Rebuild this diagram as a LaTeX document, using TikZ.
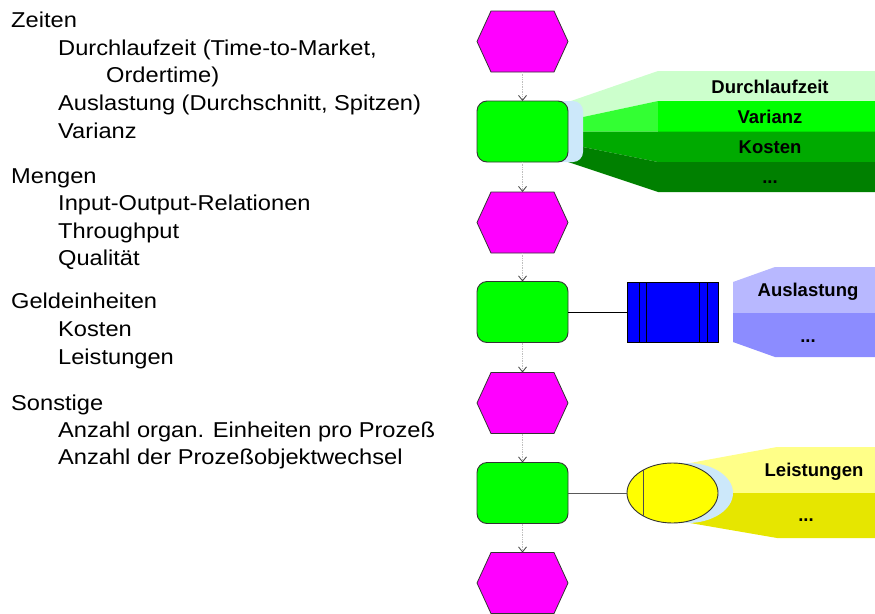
\documentclass[tikz,border=0pt]{standalone}
\usepackage{fontspec}
\setmainfont{Liberation Sans}
\newfontfamily\listfont{Liberation Sans}[FakeStretch=1.1]
\usetikzlibrary{arrows.meta,calc,shapes.geometric}

\definecolor{evmag}{HTML}{FF00FF}
\definecolor{fngreen}{HTML}{00FF00}
\definecolor{backglow}{HTML}{CCE8FA}
\definecolor{gA}{HTML}{CCFFCC}
\definecolor{gB}{HTML}{00FF00}
\definecolor{gBf}{HTML}{33FF33}
\definecolor{gC}{HTML}{00AA00}
\definecolor{gD}{HTML}{008000}
\definecolor{orgblue}{HTML}{0000FF}
\definecolor{pA}{HTML}{B8B8FF}
\definecolor{pB}{HTML}{8C8CFF}
\definecolor{yA}{HTML}{FFFF88}
\definecolor{yB}{HTML}{E6E600}
\definecolor{yE}{HTML}{FFFF00}

\begin{document}
\begin{tikzpicture}[x=1pt,y=-1pt,
  hexnode/.style={minimum width=91pt,minimum height=61pt,inner sep=0pt,outer sep=0pt},
  hexshape/.style={draw=black!80,line width=0.8pt,fill=evmag},
  fnbox/.style={draw=black!80,line width=0.9pt,fill=fngreen,rounded corners=10pt,
    minimum width=91pt,minimum height=61pt,inner sep=0pt,outer sep=0pt},
  flow/.style={draw=black!25,densely dotted,line width=0.7pt,
    -{Straight Barb[length=5pt,width=8pt,color=black!75,line width=0.8pt]}},
  item/.style={anchor=base west,inner sep=0pt,font=\listfont\fontsize{21.5}{26}\selectfont},
  tag/.style={anchor=base,inner sep=0pt,font=\bfseries\fontsize{18.5}{22}\selectfont},
]
\useasboundingbox (0,0) rectangle (875,613);

% ---- list of measures ----
\node[item] (t1) at (11,27.5) {Zeiten};
\node[item] (t2) at (58,55.5) {Durchlaufzeit (Time-to-Market,};
\node[item] (t3) at (106,82.5) {Ordertime)};
\node[item] (t4) at (58,110.5) {Auslastung (Durchschnitt, Spitzen)};
\node[item] (t5) at (58,138.5) {Varianz};
\node[item] (t6) at (11,183.5) {Mengen};
\node[item] (t7) at (58,210.5) {Input-Output-Relationen};
\node[item] (t8) at (58,238.5) {Throughput};
\node[item] (t9) at (58,265.5) {Qualität};
\node[item] (t10) at (11,308.5) {Geldeinheiten};
\node[item] (t11) at (58,336.5) {Kosten};
\node[item] (t12) at (58,364.5) {Leistungen};
\node[item] (t13) at (11,410.5) {Sonstige};
\node[item] (t14) at (58,437.5) {Anzahl organ. Einheiten pro Prozeß};
\node[item] (t15) at (58,464.5) {Anzahl der Prozeßobjektwechsel};

% ---- fan of attributes behind the first function ----
\fill[gA] (568,102) -- (658,71) -- (875,71) -- (875,101) -- (658,101) -- (570,119.8) -- cycle;
\fill[gBf] (570,119.8) -- (658,101) -- (658,131.7) -- (570,131.7) -- cycle;
\fill[gB] (658,101) rectangle (875,131.7);
\fill[gC] (570,131.7) -- (875,131.7) -- (875,162) -- (658,162) -- (570,144.4) -- cycle;
\fill[gD] (570,144.4) -- (658,162) -- (875,162) -- (875,192) -- (658,192) -- (568,162) -- cycle;
\node[tag] (a1) at (770,93) {Durchlaufzeit};
\node[tag] (a2) at (770,123) {Varianz};
\node[tag] (a3) at (770,153) {Kosten};
\node[tag] (a4) at (770,183) {...};
\fill[backglow, rounded corners=10pt] (490,101) rectangle (583,162);

% ---- events and functions ----
\node[hexnode] (h1) at (522.5,41.5) {};
\node[fnbox]   (b1) at (522.5,131.5) {};
\node[hexnode] (h2) at (522.5,222.5) {};
\node[fnbox]   (b2) at (522.5,312) {};
\node[hexnode] (h3) at (522.5,403) {};
\node[fnbox]   (b3) at (522.5,493) {};
\node[hexnode] (h4) at (522.5,583) {};
\foreach \h in {h1,h2,h3,h4}
  \draw[hexshape] ([xshift=14pt]\h.north west) -- ([xshift=-14pt]\h.north east) -- (\h.east)
    -- ([xshift=-14pt]\h.south east) -- ([xshift=14pt]\h.south west) -- (\h.west) -- cycle;

\draw[flow] (h1.south) -- (b1.north);
\draw[flow] (b1.south) -- (h2.north);
\draw[flow] (h2.south) -- (b2.north);
\draw[flow] (b2.south) -- (h3.north);
\draw[flow] (h3.south) -- (b3.north);
\draw[flow] (b3.south) -- (h4.north);

% ---- organisational unit with its attributes ----
\fill[pA] (775,267) -- (875,267) -- (875,313) -- (733,313) -- (733,282) -- cycle;
\fill[pB] (733,313) -- (875,313) -- (875,357) -- (775,357) -- (733,342) -- cycle;
\node[tag] (o1) at (808,296) {Auslastung};
\node[tag] (o2) at (808,342) {...};
\node[draw=black,line width=0.9pt,fill=orgblue,minimum width=91pt,minimum height=60pt,
  inner sep=0pt,outer sep=0pt] (q) at (672.5,312) {};
\foreach \dx in {12,19} \draw[line width=0.8pt] ([xshift=\dx pt]q.north west) -- ([xshift=\dx pt]q.south west);
\foreach \dx in {11,19} \draw[line width=0.8pt] ([xshift=-\dx pt]q.north east) -- ([xshift=-\dx pt]q.south east);
\draw[line width=0.9pt] (b2.east) -- (q.west);

% ---- information object with its attributes ----
\fill[yA] (690,463) -- (777,447) -- (875,447) -- (875,493) -- (690,493) -- cycle;
\fill[yB] (690,493) -- (875,493) -- (875,538) -- (777,538) -- (690,523) -- cycle;
\node[tag] (y1) at (814,476) {Leistungen};
\node[tag] (y2) at (806,521) {...};
\fill[backglow] (687.5,493) ellipse [x radius=45.5, y radius=30];
\node[draw=black!80,line width=0.9pt,ellipse,fill=yE,minimum width=91pt,minimum height=60pt,
  inner sep=0pt,outer sep=0pt] (e) at (672.5,493) {};
\draw[black!70,line width=0.9pt] ($(e.center)+(-29.5,-22.8)$) -- ($(e.center)+(-29.5,22.8)$);
\draw[black!65,line width=1pt] (b3.east) -- (e.west);
\end{tikzpicture}
\end{document}
